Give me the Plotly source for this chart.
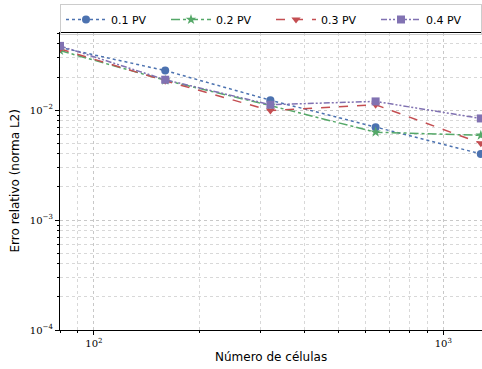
import numpy as np
import plotly.graph_objects as go

cells = [80, 160, 320, 640, 1280]
pv01 = [0.0372, 0.0229, 0.0123, 0.0070, 0.0040]
pv02 = [0.0348, 0.0187, 0.0110, 0.0063, 0.0059]
pv03 = [0.0360, 0.0185, 0.0099, 0.0112, 0.0050]
pv04 = [0.0384, 0.0189, 0.0112, 0.0120, 0.0084]
names = ["0.1 PV", "0.2 PV", "0.3 PV", "0.4 PV"]
xtick_vals = [100, 1000]
xtick_text = ["10<sup>2</sup>", "10<sup>3</sup>"]
ytick_vals = [1e-4, 1e-3, 1e-2]
ytick_text = ["10<sup>−4</sup>", "10<sup>−3</sup>", "10<sup>−2</sup>"]
xminor = [m * 10 ** e for e in (1, 2, 3) for m in range(2, 10)]
yminor = [m * 10.0 ** e for e in (-4, -3, -2) for m in range(2, 10)]

colors = ["#4C72B0", "#55A868", "#C44E52", "#8172B2"]
dashes = ["dot", "dashdot", "dash", "6px,2px,2px,2px,2px,2px"]
symbols = ["circle", "star", "triangle-down", "square"]

fig = go.Figure()
for vals, nm, c, d, s in zip([pv01, pv02, pv03, pv04], names, colors, dashes, symbols):
    fig.add_trace(go.Scatter(
        x=cells, y=vals, name=nm, mode="lines+markers",
        line=dict(color=c, dash=d, width=1.5),
        marker=dict(symbol=s, size=8, color=c),
    ))

axis_common = dict(
    type="log", showline=True, linecolor="black", linewidth=1.2, mirror=True,
    ticks="outside", ticklen=4, tickcolor="black",
    showgrid=True, gridcolor="#c8c8c8", griddash="dot", gridwidth=1,
    tickfont=dict(family="DejaVu Serif", size=10, color="black"),
    zeroline=False,
)

fig.update_xaxes(
    **axis_common,
    range=[np.log10(80), np.log10(1290)],
    tickmode="array", tickvals=xtick_vals, ticktext=xtick_text,
    minor=dict(tickmode="array", tickvals=xminor, ticks="outside", ticklen=2, tickcolor="black",
               showgrid=True, gridcolor="#d8d8d8", griddash="dot", gridwidth=1),
)
fig.update_yaxes(
    **axis_common,
    range=[-4, np.log10(0.0503)],
    tickmode="array", tickvals=ytick_vals, ticktext=ytick_text,
    minor=dict(tickmode="array", tickvals=yminor, ticks="outside", ticklen=2, tickcolor="black",
               showgrid=True, gridcolor="#d8d8d8", griddash="dot", gridwidth=1),
)

fig.update_layout(
    width=482, height=369,
    margin=dict(l=60, r=0, t=33, b=39, autoexpand=False),
    plot_bgcolor="white", paper_bgcolor="white",
    legend=dict(
        orientation="h", x=0.0, y=1 + 29 / 297, xanchor="left", yanchor="top",
        bordercolor="#cccccc", borderwidth=1, bgcolor="rgba(255,255,255,0)",
        font=dict(family="DejaVu Sans", size=11, color="black"),
        itemwidth=40, entrywidth=50,
    ),
    annotations=[
        dict(text="Número de células", xref="paper", yref="paper", x=0.5, y=0,
             yshift=-27, xanchor="center", yanchor="middle", showarrow=False,
             font=dict(family="DejaVu Sans", size=12, color="black")),
        dict(text="Erro relativo (norma L2)", xref="paper", yref="paper", x=0, y=0.5,
             xshift=-46, xanchor="center", yanchor="middle", textangle=-90, showarrow=False,
             font=dict(family="DejaVu Sans", size=12, color="black")),
    ],
)

fig.write_html(
    "out.html",
    config={"displayModeBar": False},
    post_script="document.body.style.margin='0';document.body.style.overflow='hidden';",
)
